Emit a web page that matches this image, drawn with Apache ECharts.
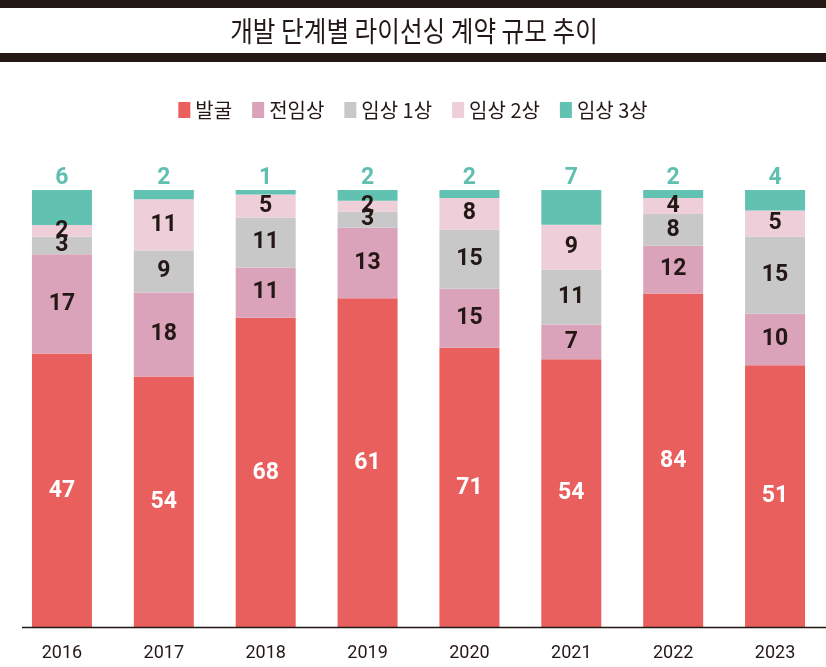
<!DOCTYPE html>
<html>
<head>
<meta charset="utf-8">
<script src="https://cdn.jsdelivr.net/npm/echarts@6/dist/echarts.min.js"></script>
<style>
  html, body { margin: 0; padding: 0; background: #fff; }
  #main { width: 826px; height: 667px; }
</style>
</head>
<body>
<div id="main"></div>
<script>
var years = ['2016', '2017', '2018', '2019', '2020', '2021', '2022', '2023'];
var names = ['발굴', '전임상', '임상 1상', '임상 2상', '임상 3상'];
// 단계별 건수
var discovery = [47, 54, 68, 61, 71, 54, 84, 51];
var preclinical = [17, 18, 11, 13, 15, 7, 12, 10];
var phase1 = [3, 9, 11, 3, 15, 11, 8, 15];
var phase2 = [2, 11, 5, 2, 8, 9, 4, 5];
var phase3 = [6, 2, 1, 2, 2, 7, 2, 4];

var colors = ['#E95F5E', '#DBA3B9', '#C8C8C8', '#EECED8', '#62C2B2'];
var dark = '#231815';
var numFont = 'Roboto, sans-serif';
var krFont = '"Noto Sans CJK KR", sans-serif';

var raw = [discovery, preclinical, phase1, phase2, phase3];
// 연도별 합계로 100% 환산
var totals = years.map(function (y, i) {
    var s = 0;
    raw.forEach(function (arr) { s += arr[i]; });
    return s;
});

var myChart = echarts.init(document.getElementById('main'));

var series = raw.map(function (arr, k) {
    var isTop = k == 4;
    return {
        name: names[k],
        type: 'bar',
        stack: 'all',
        barWidth: 60,
        itemStyle: { color: colors[k] },
        data: arr.map(function (v, i) { return v / totals[i] * 100; }),
        label: {
            show: true,
            position: isTop ? 'top' : 'inside',
            distance: 0,
            color: isTop ? '#5FC0AF' : (k == 0 ? '#fff' : dark),
            fontFamily: numFont,
            fontWeight: 'bold',
            fontSize: 23,
            formatter: function (p) { return raw[k][p.dataIndex]; }
        }
    };
});

var option = {
    backgroundColor: '#fff',
    animation: false,
    legend: {
        top: 95,
        left: 'center',
        itemWidth: 12,
        itemHeight: 16,
        itemGap: 20,
        icon: 'rect',
        textStyle: { fontFamily: krFont, fontSize: 20, color: dark },
        data: names
    },
    grid: { left: 11, width: 819, top: 190, bottom: 39 },
    xAxis: {
        type: 'category',
        data: years,
        axisLine: { show: false },
        axisTick: { show: false },
        axisLabel: { fontFamily: numFont, fontSize: 18, color: dark, margin: 16 }
    },
    yAxis: { type: 'value', min: 0, max: 100, show: false },
    graphic: [
        { type: 'rect', shape: { x: 0, y: 0, width: 826, height: 8 }, style: { fill: dark } },
        { type: 'rect', shape: { x: 0, y: 53, width: 826, height: 9 }, style: { fill: dark } },
        {
            type: 'text', x: 414, y: 31, scaleX: 0.88,
            style: {
                text: '개발 단계별 라이선싱 계약 규모 추이',
                font: '28px "Noto Sans CJK KR", sans-serif',
                fill: dark, textAlign: 'center', textVerticalAlign: 'middle'
            }
        },
        { type: 'line', shape: { x1: 22, y1: 627.5, x2: 826, y2: 627.5 }, style: { stroke: dark, lineWidth: 1.5 }, z: 10 }
    ],
    series: series
};

myChart.setOption(option);
</script>
</body>
</html>
